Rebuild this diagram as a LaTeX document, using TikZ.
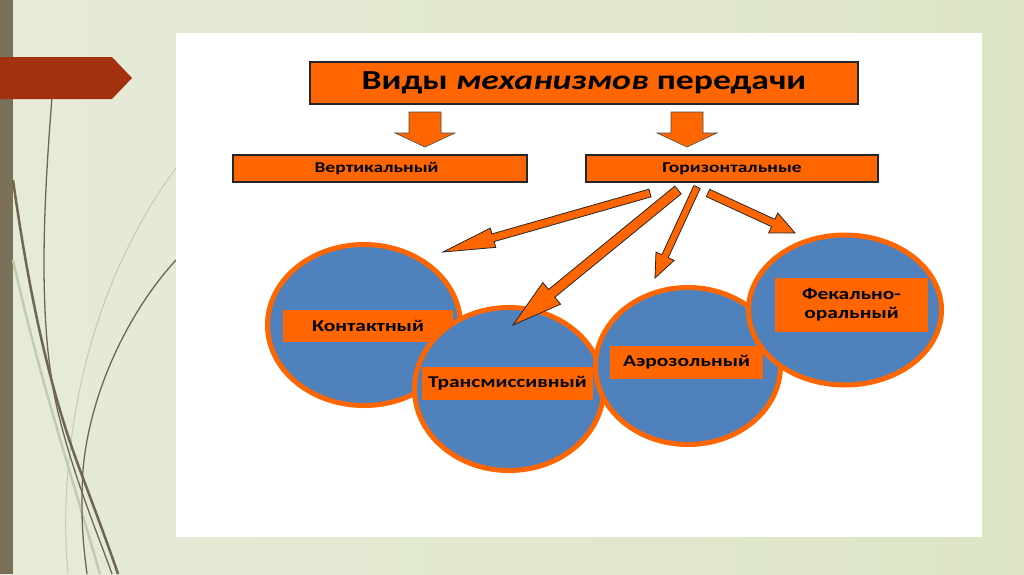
\documentclass[tikz,border=0pt]{standalone}
\usepackage{fontspec}
\setmainfont{Carlito}[FakeStretch=1.3]
\usetikzlibrary{calc,shapes.geometric}
\definecolor{bgL}{HTML}{E6EBD8}
\definecolor{bgR}{HTML}{DDE5C6}
\definecolor{barbrown}{HTML}{7B7058}
\definecolor{redarr}{HTML}{A3300F}
\definecolor{curvedark}{HTML}{6F6650}
\definecolor{curvelight}{HTML}{C3CAB2}
\definecolor{orng}{HTML}{FF6600}
\definecolor{blu}{HTML}{4F81BD}
\tikzset{
  obox/.style={draw=black!85, line width=1.1pt, fill=orng, inner sep=0pt},
  blob/.style={ellipse, draw=orng, line width=5pt, fill=blu, inner sep=0pt},
  lab/.style={fill=orng, inner sep=0pt, font=\bfseries\fontsize{16.5}{19}\selectfont, align=center},
  thinarrow/.style={draw=black!85, line width=0.8pt, fill=orng, line join=miter},
  bigarrow/.style={draw=black!70, line width=0.6pt, fill=orng},
}
\newcommand\blkarrow[5]{%
  \coordinate (ba-n) at ($(#2)!#5!(#1)$);
  \draw[thinarrow] ($(#1)!#3!90:(#2)$) -- ($(ba-n)!#3!90:(#2)$) -- ($(ba-n)!#4!90:(#2)$) -- (#2)
     -- ($(ba-n)!#4!-90:(#2)$) -- ($(ba-n)!#3!-90:(#2)$) -- ($(#1)!#3!-90:(#2)$) -- cycle;
}
\begin{document}
\begin{tikzpicture}[x=1pt,y=-1pt]
\useasboundingbox (0,0) rectangle (1024,574);
% background
\shade[left color=bgL, right color=bgR] (0,0) rectangle (1024,574);
\fill[barbrown] (0,0) rectangle (13,574);
% decorative curves
\draw[curvelight, line width=1pt] (176,168) .. controls (130,230) and (80,330) .. (68,470) .. controls (64,520) and (66,550) .. (68,574);
\draw[curvelight, line width=2.5pt] (13,260) .. controls (40,380) and (70,470) .. (100,574);
\draw[curvedark, line width=1.3pt] (52,97) .. controls (44,200) and (36,330) .. (60,420) .. controls (75,480) and (100,540) .. (112,574);
\draw[curvedark, line width=2.5pt] (13,180) .. controls (30,300) and (50,390) .. (80,470) .. controls (95,510) and (110,550) .. (118,574);
\draw[curvedark, line width=1.3pt] (176,260) .. controls (130,310) and (90,390) .. (83,470) .. controls (80,520) and (84,550) .. (87,574);
% red arrow
\fill[redarr] (0,57) -- (112,57) -- (132,78) -- (112,99) -- (0,99) -- cycle;
% white panel
\fill[white] (176,33) rectangle (982,537);
% title
\node[obox, minimum width=548pt, minimum height=42pt] (title) at (584,83)
  {\bfseries\fontsize{27.5}{31}\selectfont Виды \textit{механизмов} передачи};
% big down arrows
\draw[bigarrow] (409,112) -- (441,112) -- (441,133) -- (455,133) -- (425,147) -- (395,133) -- (409,133) -- cycle;
\draw[bigarrow] (671,112) -- (703,112) -- (703,133) -- (717,133) -- (687,147) -- (657,133) -- (671,133) -- cycle;
% second level
\node[obox, minimum width=294pt, minimum height=27pt] (vert) at (380,168.5) {};
\node[anchor=west, font=\bfseries\fontsize{15}{17}\selectfont] at (311,168.5) {Вертикальный};
\node[obox, minimum width=292pt, minimum height=27pt, font=\bfseries\fontsize{15}{17}\selectfont] (hor) at (732,168.5) {Горизонтальные};
% ellipses
\node[blob, minimum width=193pt, minimum height=161pt] (kont) at (364,325) {};
\node[lab, minimum width=170pt, minimum height=32pt] (kontL) at (368,326) {Контактный};
\node[blob, minimum width=189pt, minimum height=163pt] (trans) at (509,389) {};
\node[lab, minimum width=171pt, minimum height=33pt] (transL) at (507.5,383.5) {Трансмиссивный};
\node[blob, minimum width=185pt, minimum height=157pt] (aero) at (688,366) {};
\node[lab, minimum width=153pt, minimum height=33pt] (aeroL) at (686.5,362.5) {Аэрозольный};
\node[blob, minimum width=193pt, minimum height=150pt] (fek) at (845,310) {};
\node[lab, minimum width=153pt, minimum height=54pt] (fekL) at (851.5,305) {Фекально-\\оральный};
% arrows from Горизонтальные
\coordinate (tA) at (650,193); \coordinate (hA) at (443,252);
\coordinate (tB) at (678,190); \coordinate (hB) at (513,325);
\coordinate (tC) at (697,187); \coordinate (hC) at (655,278);
\coordinate (tD) at (708,193); \coordinate (hD) at (795,233);
\blkarrow{tA}{hA}{4pt}{10pt}{52pt}
\blkarrow{tB}{hB}{5pt}{14pt}{50pt}
\blkarrow{tC}{hC}{3.5pt}{10pt}{24pt}
\blkarrow{tD}{hD}{4pt}{11pt}{24pt}
\end{tikzpicture}
\end{document}
